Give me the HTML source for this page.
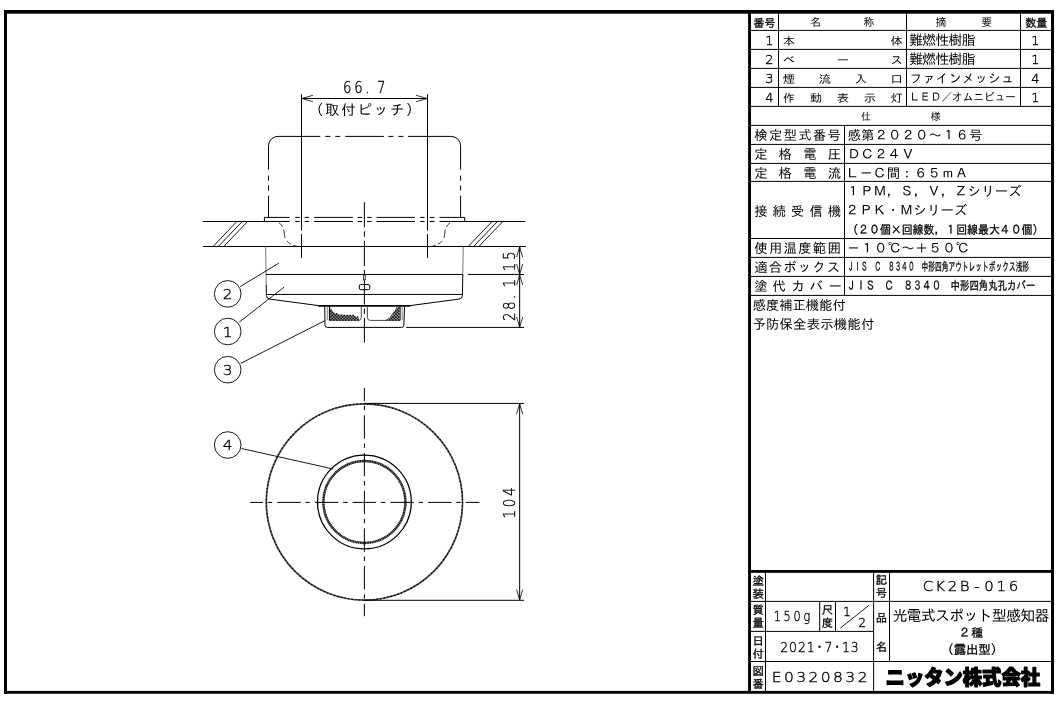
<!DOCTYPE html>
<html lang="ja">
<head>
<meta charset="utf-8">
<title>CK2B-016 光電式スポット型感知器 2種（露出型）</title>
<style>
html,body{margin:0;padding:0;background:#fff;}
body{width:1062px;height:702px;overflow:hidden;}
svg{display:block;filter:grayscale(1);}
text{font-family:"Liberation Sans","IPAGothic","Noto Sans CJK JP",sans-serif;fill:#000;}
.m{font-family:"DejaVu Sans","IPAGothic","Noto Sans CJK JP",sans-serif;font-weight:200;stroke:#000;stroke-width:0.35px;}
.k{stroke:#000;stroke-width:0.3px;}
.j{font-family:"IPAGothic","Noto Sans CJK JP",sans-serif;}
.b{font-family:"Liberation Sans","Noto Sans CJK JP",sans-serif;font-weight:900;}
</style>
</head>
<body>
<svg width="1062" height="702" viewBox="0 0 1062 702">
<rect x="0" y="0" width="1062" height="702" fill="#fff"/>
<g id="frame" fill="#000" stroke="none">
<rect x="4" y="10" width="1050" height="3.7"/>
<rect x="4" y="690.9" width="1050" height="2.85"/>
<rect x="4" y="10" width="3" height="683.75"/>
<rect x="1051" y="10" width="3" height="683.75"/>
<rect x="748.1" y="10" width="2.9" height="683"/>
<rect x="748.1" y="570" width="304" height="2.85"/>
</g>
<g id="grid" stroke="#000" stroke-width="1" fill="none">
<line x1="750" y1="30.4" x2="1052" y2="30.4" stroke="#000" stroke-width="1"/>
<line x1="750" y1="49.4" x2="1052" y2="49.4" stroke="#000" stroke-width="1"/>
<line x1="750" y1="68.4" x2="1052" y2="68.4" stroke="#000" stroke-width="1"/>
<line x1="750" y1="87.4" x2="1052" y2="87.4" stroke="#000" stroke-width="1"/>
<line x1="750" y1="106.4" x2="1052" y2="106.4" stroke="#000" stroke-width="1"/>
<line x1="750" y1="125.4" x2="1052" y2="125.4" stroke="#000" stroke-width="1"/>
<line x1="750" y1="144.4" x2="1052" y2="144.4" stroke="#000" stroke-width="1"/>
<line x1="750" y1="163.4" x2="1052" y2="163.4" stroke="#000" stroke-width="1"/>
<line x1="750" y1="181.4" x2="1052" y2="181.4" stroke="#000" stroke-width="1"/>
<line x1="750" y1="238.5" x2="1052" y2="238.5" stroke="#000" stroke-width="1"/>
<line x1="750" y1="257.4" x2="1052" y2="257.4" stroke="#000" stroke-width="1"/>
<line x1="750" y1="276.4" x2="1052" y2="276.4" stroke="#000" stroke-width="1"/>
<line x1="750" y1="295.4" x2="1052" y2="295.4" stroke="#000" stroke-width="1"/>
<line x1="778.5" y1="13" x2="778.5" y2="106.4" stroke="#000" stroke-width="1"/>
<line x1="906.5" y1="13" x2="906.5" y2="106.4" stroke="#000" stroke-width="1"/>
<line x1="1020.5" y1="13" x2="1020.5" y2="106.4" stroke="#000" stroke-width="1"/>
<line x1="844.5" y1="125.4" x2="844.5" y2="295.4" stroke="#000" stroke-width="1"/>
<line x1="750" y1="601.4" x2="1052" y2="601.4" stroke="#000" stroke-width="1"/>
<line x1="750" y1="631.4" x2="873.6" y2="631.4" stroke="#000" stroke-width="1"/>
<line x1="750" y1="661.5" x2="1052" y2="661.5" stroke="#000" stroke-width="1"/>
<line x1="765.5" y1="572" x2="765.5" y2="691" stroke="#000" stroke-width="1"/>
<line x1="819.7" y1="601.4" x2="819.7" y2="631.4" stroke="#000" stroke-width="1"/>
<line x1="835.5" y1="601.4" x2="835.5" y2="631.4" stroke="#000" stroke-width="1"/>
<line x1="873.6" y1="572" x2="873.6" y2="691" stroke="#000" stroke-width="1"/>
<line x1="889.5" y1="572" x2="889.5" y2="661.5" stroke="#000" stroke-width="1"/>
<line x1="840.4" y1="628" x2="869" y2="605.3" stroke="#000" stroke-width="0.9"/>
</g>
<g id="side" stroke="#000" stroke-width="1" fill="none">
<path d="M203 221.5 H525" stroke-dasharray="86.8 5.4 4.5 5 4.4 5 38.7 4.8 4.5 5 4.4 5 38.5 5.2 4.4 5 4.9 5 86.2"/>
<line x1="203" y1="246.5" x2="525.9" y2="246.5" stroke="#000" stroke-width="1"/>
<line x1="213.0" y1="246.5" x2="236.9" y2="221.5" stroke="#000" stroke-width="0.9"/>
<line x1="468.2" y1="246.5" x2="492.1" y2="221.5" stroke="#000" stroke-width="0.9"/>
<line x1="218.35" y1="246.5" x2="242.25" y2="221.5" stroke="#000" stroke-width="0.9"/>
<line x1="473.55" y1="246.5" x2="497.45000000000005" y2="221.5" stroke="#000" stroke-width="0.9"/>
<line x1="223.7" y1="246.5" x2="247.6" y2="221.5" stroke="#000" stroke-width="0.9"/>
<line x1="478.9" y1="246.5" x2="502.8" y2="221.5" stroke="#000" stroke-width="0.9"/>
<path d="M268.5 217.4 V145.8" stroke-dasharray="21.8 5 5 5 5 5.9 23.7"/>
<path d="M460.6 217.4 V145.8" stroke-dasharray="21.8 5 5 5 5 5.9 23.7"/>
<path d="M268.5 145.8 A9.4 9.4 0 0 1 277.9 136.4 M451.2 136.4 A9.4 9.4 0 0 1 460.6 145.8"/>
<path d="M277.8 136.4 H451.2" stroke-dasharray="42.5 5 5 5 5 5 38.6 4.5 5 5 5 4.5 43.8"/>
<path d="M264.4 217.4 H464.7" stroke-dasharray="25.4 5.4 4.5 5 4.4 5 38.7 4.8 4.5 5 4.4 5 38.5 5.2 4.4 5 4.9 5 25.8"/>
<path d="M264.4 217.4 V221.5 M464.7 217.4 V221.5"/>
<path d="M276.8 221.6 Q283.8 224.8 284.2 233 Q284.6 243.8 296.8 246.2" stroke-dasharray="0 2.4 5.4 3 8.4 3.4 5.4 2.8 6" stroke-width="0.9" stroke="#222"/>
<path d="M452.2 221.6 Q445.2 224.8 444.8 233 Q444.4 243.8 432.2 246.2" stroke-dasharray="0 2.4 5.4 3 8.4 3.4 5.4 2.8 6" stroke-width="0.9" stroke="#222"/>
<line x1="301.5" y1="94.2" x2="301.5" y2="230.6" stroke="#000" stroke-width="1"/>
<line x1="301.5" y1="234.1" x2="301.5" y2="257.9" stroke="#000" stroke-width="1"/>
<line x1="427.5" y1="94.2" x2="427.5" y2="230.6" stroke="#000" stroke-width="1"/>
<line x1="427.5" y1="234.1" x2="427.5" y2="257.9" stroke="#000" stroke-width="1"/>
<line x1="301.5" y1="98.5" x2="427.5" y2="98.5" stroke="#000" stroke-width="1"/>
<path d="M312.9 95.3 L301.8 98.5 L312.9 101.7 M416.1 95.3 L427.2 98.5 L416.1 101.7" stroke-width="0.8"/>
<path d="M364.4 202.1 V342.6" stroke-dasharray="25.2 4 5.4 4"/>
<path d="M265.6 246.4 L266.2 285" stroke="#777"/>
<path d="M463.2 246.4 L462.8 274.5" stroke="#777"/>
<path d="M266.2 285 L266.4 295.6 Q266.6 298.7 269.8 299.1 L318.6 305.6 M462.8 274.5 L462.4 295.6 Q462.2 298.7 459 299.1 L410.2 305.6"/>
<line x1="266" y1="274.45" x2="462.8" y2="274.45" stroke="#000" stroke-width="1"/>
<line x1="266.3" y1="294.45" x2="462.5" y2="294.45" stroke="#000" stroke-width="1"/>
<line x1="318.3" y1="305.85" x2="410.5" y2="305.85" stroke="#000" stroke-width="1.7"/>
<rect x="359.3" y="284.5" width="10.5" height="5.2" rx="1.6"/>
<path d="M363.5 275 V280 Q364.4 281.3 365.3 280 V275" stroke-width="0.9" stroke="#222"/>
<path d="M324.7 306.5 L325 325.4 Q325.2 327.4 327.2 327.4 H401.6 Q403.6 327.4 403.8 325.4 L404.6 306.5"/>
<path d="M327.3 306.5 V320.2 M402.2 306.5 V320.2" stroke="#666" stroke-width="0.8"/>
<path d="M329.5 306.5 V320.4 M400 306.5 V320.4" stroke-width="1.2"/>
<path d="M361.3 306.5 V317.6 Q361.1 320.4 358.3 320.4 H329.5 M367.4 306.5 V317.6 Q367.6 320.4 370.4 320.4 H399.8" stroke="#333" stroke-width="0.9"/>
<path d="M330 307.2 L334 312.4 Q338 314.6 346 315 L354 315.4 Q358.2 316.8 359.8 320.4 H330 Z M399.6 307.2 L396 308 Q392.4 316 386 320.4 H399.6 Z" fill="#9a9a9a" stroke="none"/>
<g stroke="#000" stroke-width="1.5" stroke-dasharray="1.5 1.5"><path d="M399.6 308 H396" stroke-dashoffset="0"/><path d="M330 309.5 H331.77" stroke-dashoffset="1.5"/><path d="M399.6 309.5 H395.28" stroke-dashoffset="1.5"/><path d="M330 311 H332.92" stroke-dashoffset="0"/><path d="M399.6 311 H394.48" stroke-dashoffset="0"/><path d="M330 312.5 H334.21" stroke-dashoffset="1.5"/><path d="M399.6 312.5 H393.57" stroke-dashoffset="1.5"/><path d="M330 314 H337.37" stroke-dashoffset="0"/><path d="M399.6 314 H392.54" stroke-dashoffset="0"/><path d="M330 315.5 H354.3" stroke-dashoffset="1.5"/><path d="M399.6 315.5 H391.36" stroke-dashoffset="1.5"/><path d="M330 317 H358.29" stroke-dashoffset="0"/><path d="M399.6 317 H390.01" stroke-dashoffset="0"/><path d="M330 318.5 H358.96" stroke-dashoffset="1.5"/><path d="M399.6 318.5 H388.44" stroke-dashoffset="1.5"/><path d="M330 320 H359.62" stroke-dashoffset="0"/><path d="M399.6 320 H386.55" stroke-dashoffset="0"/></g>
<line x1="467.9" y1="274.45" x2="524" y2="274.45" stroke="#000" stroke-width="1"/>
<line x1="406.2" y1="327.4" x2="524" y2="327.4" stroke="#000" stroke-width="1"/>
<line x1="519.65" y1="246.5" x2="519.65" y2="327.4" stroke="#000" stroke-width="1"/>
<path d="M516.6 257 L519.65 246.8 L522.7 257 M516.6 264 L519.65 274.2 L522.7 264 M516.6 285 L519.65 274.8 L522.7 285 M516.6 317 L519.65 327.2 L522.7 317" stroke-width="0.8"/>
</g>
<g id="plan" stroke="#000" stroke-width="1" fill="none">
<circle cx="364.4" cy="502.0" r="98.1" stroke-width="1.7" stroke="#484848"/>
<circle cx="364.4" cy="502.0" r="98.1" stroke-width="1.2" stroke="#000" stroke-dasharray="1.3 2.3"/>
<circle cx="364.4" cy="502.0" r="46.9" stroke-width="1.25"/>
<circle cx="364.4" cy="502.0" r="41" stroke-width="2.4" stroke="#6a6a6a"/>
<circle cx="364.4" cy="502.0" r="41" stroke-width="2.4" stroke="#000" stroke-dasharray="0.7 1"/>
<path d="M250.1 502.4 H479.3" stroke-dasharray="23.4 4.7 4.5 5.1" stroke-dashoffset="10.5"/>
<path d="M364.4 388 V616.2" stroke-dasharray="23.4 4.7 4.5 5.1" stroke-dashoffset="10.4"/>
<line x1="364.4" y1="403.4" x2="524" y2="403.4" stroke="#000" stroke-width="1"/>
<line x1="364.4" y1="600.3" x2="524" y2="600.3" stroke="#000" stroke-width="1"/>
<line x1="519.65" y1="403.4" x2="519.65" y2="600.3" stroke="#000" stroke-width="1"/>
<path d="M516.6 414.2 L519.65 403.7 L522.7 414.2 M516.6 589.5 L519.65 600 L522.7 589.5" stroke-width="0.8"/>
</g>
<g id="balloons" stroke="#000" stroke-width="1" fill="none">
<circle cx="227.7" cy="293.9" r="13.3" stroke-width="0.9"/>
<circle cx="227.7" cy="331.5" r="13.3" stroke-width="0.9"/>
<circle cx="227.7" cy="369.7" r="13.3" stroke-width="0.9"/>
<circle cx="227.7" cy="445" r="13.3" stroke-width="0.9"/>
<line x1="240.2" y1="286.6" x2="278.8" y2="263.2" stroke="#000" stroke-width="0.9"/>
<line x1="239.3" y1="322.1" x2="284.2" y2="287" stroke="#000" stroke-width="0.9"/>
<line x1="241" y1="363.2" x2="325" y2="320.6" stroke="#000" stroke-width="0.9"/>
<line x1="241.5" y1="448.5" x2="333.3" y2="469" stroke="#000" stroke-width="0.9"/>
</g>
<g id="text">
<text x="753.2 764.2" y="26.5" font-size="11.2" class="k">番号</text>
<text x="810.2 863.6" y="26.2" font-size="10.8">名称</text>
<text x="935.6 981.2" y="26.2" font-size="10.8">摘要</text>
<text x="1025.2 1036.2" y="26.6" font-size="11.2" class="k">数量</text>
<text transform="translate(769.3,45) scale(1.05,1)" x="0" text-anchor="middle" font-size="12.3" class="m">1</text>
<text transform="translate(782.8,45.2) scale(1.12,1)" x="0 96.25" font-size="11">本体</text>
<text transform="translate(1035.4,45) scale(1.05,1)" x="0" text-anchor="middle" font-size="12.3" class="m">1</text>
<text transform="translate(769.3,64) scale(1.05,1)" x="0" text-anchor="middle" font-size="12.3" class="m">2</text>
<text transform="translate(782.8,64.2) scale(1.12,1)" x="0 48.13 96.25" font-size="11">ベース</text>
<text transform="translate(1035.4,64) scale(1.05,1)" x="0" text-anchor="middle" font-size="12.3" class="m">1</text>
<text transform="translate(769.3,83) scale(1.05,1)" x="0" text-anchor="middle" font-size="12.3" class="m">3</text>
<text transform="translate(782.8,83.2) scale(1.12,1)" x="0 32.08 64.17 96.25" font-size="11">煙流入口</text>
<text transform="translate(1035.4,83) scale(1.05,1)" x="0" text-anchor="middle" font-size="12.3" class="m">4</text>
<text transform="translate(769.3,102) scale(1.05,1)" x="0" text-anchor="middle" font-size="12.3" class="m">4</text>
<text transform="translate(782.8,102.2) scale(1.12,1)" x="0 24.06 48.13 72.19 96.25" font-size="11">作動表示灯</text>
<text transform="translate(1035.4,102) scale(1.05,1)" x="0" text-anchor="middle" font-size="12.3" class="m">1</text>
<text x="909.2 922.32 935.44 948.56 961.68" y="44.9" font-size="13.8">難燃性樹脂</text>
<text x="909.2 922.32 935.44 948.56 961.68" y="63.9" font-size="13.8">難燃性樹脂</text>
<text x="909.6 922.7 935.8 948.9 962 975.1 988.2 1001.3" y="82.9" font-size="12.6">ファインメッシュ</text>
<text transform="translate(909.4,101.4) scale(0.93,1)" x="0 11.46 22.92 34.39 45.85 57.31 68.77 80.24 91.7 103.16" font-size="11.4">ＬＥＤ／オムニビュー</text>
<text x="861 930.6" y="120.1" font-size="10.2">仕様</text>
<text x="754.3 768.94 783.58 798.22 812.86 827.5" y="140" font-size="13.4">検定型式番号</text>
<text x="847.4 860.9 874.4 887.9 901.4 914.9 928.4 941.9 955.4 968.9" y="140" font-size="13.4">感第２０２０～１６号</text>
<text x="754.3 778.6 803.3 827.7" y="158.9" font-size="13.4">定格電圧</text>
<text x="847.2 860.7 874.2 887.7 901.2" y="158.8" font-size="13.4">ＤＣ２４Ｖ</text>
<text x="754.3 778.6 803.3 827.7" y="178" font-size="13.4">定格電流</text>
<text x="845.8 859.42 873.04 886.66 900.28 913.9 927.52 941.14 954.76" y="178" font-size="13.4">Ｌ－Ｃ間：６５ｍＡ</text>
<text x="846.4 859.88 873.36 886.84 900.32 913.8 927.28 940.76 954.24 967.72 981.2 994.68 1008.16" y="196" font-size="13.4">１ＰＭ，Ｓ，Ｖ，Ｚシリーズ</text>
<text x="754.3 772.6 790.8 809.4 827.7" y="215.8" font-size="13.4">接続受信機</text>
<text x="845.6 859.16 872.72 886.28 899.84 913.4 926.96 940.52 954.08" y="214.8" font-size="13.4">２ＰＫ・Ｍシリーズ</text>
<text x="847.2" y="233.9" font-size="12" textLength="196.2" lengthAdjust="spacingAndGlyphs" class="k">（２０個<tspan class="j">×</tspan>回線数，１回線最大４０個）</text>
<text x="754.3 768.94 783.58 798.22 812.86 827.5" y="253.2" font-size="13.4">使用温度範囲</text>
<text x="846.8 860.42 874.04 887.66 901.28 914.9 928.52 942.14 955.76" y="253.2" font-size="13.4">－１０℃～＋５０℃</text>
<text x="754.3 768.8 783.3 797.8 812.3 826.8" y="272" font-size="13.4">適合ボックス</text>
<text x="847.6" y="271.2" font-size="12" textLength="181.5" lengthAdjust="spacingAndGlyphs" class="k">ＪＩＳ　Ｃ　８３４０　中形四角アウトレットボックス浅形</text>
<text x="754.3 772.6 791.4 809.4 828.4" y="291.2" font-size="13.4">塗代カバー</text>
<text x="846.8" y="290.4" font-size="12.4" textLength="188.6" lengthAdjust="spacingAndGlyphs" class="k">ＪＩＳ　Ｃ　８３４０　中形四角丸孔カバー</text>
<text x="752.6 765.9 779.2 792.5 805.8 819.1 832.4" y="309.8" font-size="13.4">感度補正機能付</text>
<text x="752.4 765.96 779.52 793.08 806.64 820.2 833.76 847.32 860.88" y="328.6" font-size="13.4">予防保全表示機能付</text>
<text x="758.1 758.1" y="584.6 597.5" text-anchor="middle" font-size="11.4" class="k">塗装</text>
<text x="758.1 758.1" y="614.1 627.1" text-anchor="middle" font-size="11.4" class="k">質量</text>
<text x="758.1 758.1" y="644.7 657.8" text-anchor="middle" font-size="11.4" class="k">日付</text>
<text x="758.1 758.1" y="675.3 688.1" text-anchor="middle" font-size="11.4" class="k">図番</text>
<text x="827.4 827.4" y="614.1 626.9" text-anchor="middle" font-size="11.4" class="k">尺度</text>
<text x="881.5 881.5" y="584.1 596.7" text-anchor="middle" font-size="11.4" class="k">記号</text>
<text x="881.5 881.5" y="621.9 650.9" text-anchor="middle" font-size="11.4" class="k">品名</text>
<text transform="translate(777.4,621) scale(0.84,1)" x="0 11.67 23.33 35" text-anchor="middle" font-size="13.4" class="m">150g</text>
<text transform="translate(847,615.7) scale(1,1)" x="0" text-anchor="middle" font-size="12.3" class="m">1</text>
<text transform="translate(862.2,627) scale(1,1)" x="0" text-anchor="middle" font-size="12.3" class="m">2</text>
<text transform="translate(784.25,651.8) scale(0.9,1)" x="0 9.81 19.61 29.42 39.22 49.03 58.83 68.64 78.44" text-anchor="middle" font-size="13.85" class="m">2021･7･13</text>
<text transform="translate(776.7,681.9) scale(1.12,1)" x="0 10.96 21.91 32.87 43.82 54.78 65.73 76.69" text-anchor="middle" font-size="13.85" class="m">E0320832</text>
<text transform="translate(927.95,591) scale(1.1,1)" x="0 11.12 22.24 33.35 44.47 55.59 66.71 77.83" text-anchor="middle" font-size="13.6" class="m">CK2B-016</text>
<text x="892.4 906.6 920.8 935 949.2 963.4 977.6 991.8 1006 1020.2 1034.4" y="620.6" font-size="15">光電式スポット型感知器</text>
<text x="958.6 971.2" y="637" font-size="12" class="k">２種</text>
<text x="941.3 953.65 966 978.35 990.7" y="653.8" font-size="12.4" class="k">（露出型）</text>
<text x="885.6" y="684.6" font-size="20" textLength="154.4" lengthAdjust="spacingAndGlyphs" class="b" stroke="#000" stroke-width="1.2" stroke-linejoin="round">ニッタン株式会社</text>
<text transform="translate(347.2,93.1) scale(0.84,1)" x="0 13.45 24.05 40.65" text-anchor="middle" font-size="15.8" class="m">66.7</text>
<text x="308.9 325.1 341.3 357.5 373.7 389.9 406.1" y="115.4" font-size="14.4">（取付ピッチ）</text>
<text transform="translate(227.5,299.3) scale(1.06,1)" x="0" text-anchor="middle" font-size="14.4" class="m">2</text>
<text transform="translate(227.5,336.9) scale(1.06,1)" x="0" text-anchor="middle" font-size="14.4" class="m">1</text>
<text transform="translate(227.5,375.1) scale(1.06,1)" x="0" text-anchor="middle" font-size="14.4" class="m">3</text>
<text transform="translate(227.5,450.4) scale(1.06,1)" x="0" text-anchor="middle" font-size="14.4" class="m">4</text>
<text transform="translate(515,267) rotate(-90) scale(0.82,1)" x="0 13.78" text-anchor="middle" font-size="16.5" class="m">15</text>
<text transform="translate(515,316.6) rotate(-90) scale(0.82,1)" x="0 13.41 24.02 40.61" text-anchor="middle" font-size="16.5" class="m">28.1</text>
<text transform="translate(515,514.2) rotate(-90) scale(0.82,1)" x="0 13.78 27.56" text-anchor="middle" font-size="16.5" class="m">104</text>
</g>
</svg>
</body>
</html>
